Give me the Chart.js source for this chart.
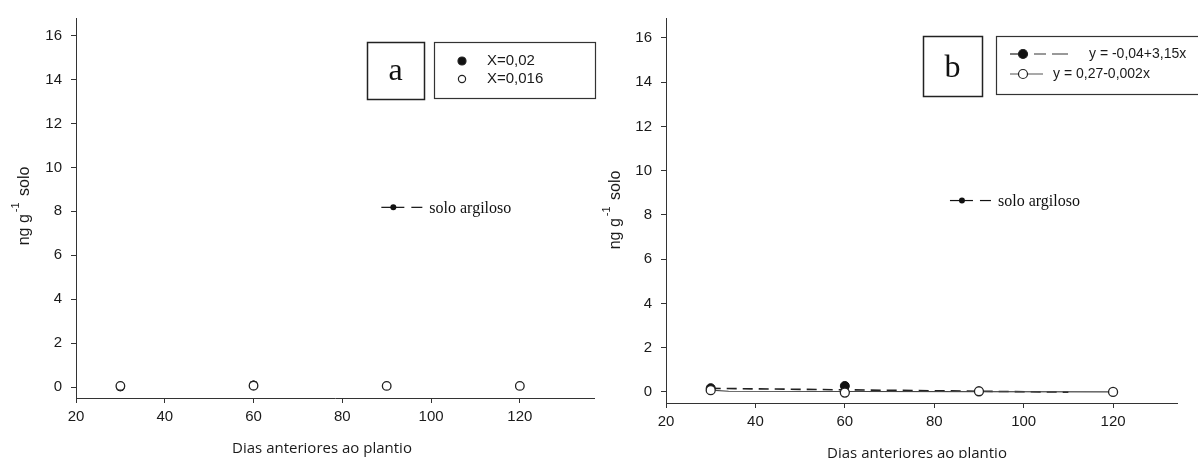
<!DOCTYPE html>
<html>
<head>
<meta charset="utf-8">
<script src="https://cdn.jsdelivr.net/npm/chart.js@4.4.1/dist/chart.umd.min.js"></script>
<style>
  html, body { margin: 0; padding: 0; background: #fff; }
  #wrap { position: relative; width: 1198px; height: 458px; overflow: hidden; }
  .panel { position: absolute; top: 0; height: 458px; }
</style>
</head>
<body>
<div id="wrap">
  <div class="panel" style="left:0;width:600px"><canvas id="chartA" width="600" height="458"></canvas></div>
  <div class="panel" style="left:600px;width:598px"><canvas id="chartB" width="598" height="458"></canvas></div>
</div>
<script>
// Days before planting (x) and residue in soil, ng g-1 (y)
const daysA_high = [30, 60];
const valsA_high = [0.0, 0.1];                 // X=0,02
const daysA_low  = [30, 60, 90, 120];
const valsA_low  = [0.05, 0.06, 0.05, 0.05];   // X=0,016

const daysB_high = [30, 60];
const valsB_high = [0.17, 0.27];
const fitB_highX = [30, 110];
const fitB_highY = [0.16, -0.01];
const daysB_low  = [30, 60, 90, 120];
const valsB_low  = [0.08, -0.03, 0.03, 0.0];
const fitB_lowX  = [30, 34, 120];
const fitB_lowY  = [0.08, 0.03, 0.0];

const xTicks = [20, 40, 60, 80, 100, 120];
const yTicks = [0, 2, 4, 6, 8, 10, 12, 14, 16];
const legendA = ['X=0,02', 'X=0,016'];
const legendB = ['y = -0,04+3,15x', 'y = 0,27-0,002x'];
const xTitle = 'Dias anteriores ao plantio';
const yTitleParts = ['ng g', '-1', ' solo'];
const noteText = 'solo argiloso';

const SANS = '"Liberation Sans", Arial, sans-serif';
const SERIF = '"Liberation Serif", "Times New Roman", serif';
const TITLE_FONT = '"Open Sans", "Noto Sans", sans-serif';
const AXIS = '#333';
const INK = '#1a1a1a';

const pts = (xs, ys) => xs.map((x, i) => ({ x: x, y: ys[i] }));

function dot(ctx, x, y, r, filled) {
  ctx.beginPath();
  ctx.arc(x, y, r, 0, Math.PI * 2);
  ctx.fillStyle = filled ? '#111' : '#fff';
  ctx.fill();
  ctx.lineWidth = 1.2;
  ctx.strokeStyle = '#222';
  ctx.stroke();
}

function seg(ctx, x1, y1, x2, y2, w, color) {
  ctx.beginPath();
  ctx.moveTo(x1, y1);
  ctx.lineTo(x2, y2);
  ctx.lineWidth = w;
  ctx.strokeStyle = color;
  ctx.stroke();
}

function drawYTitle(ctx, cx, cy) {
  ctx.save();
  ctx.translate(cx, cy);
  ctx.rotate(-Math.PI / 2);
  ctx.fillStyle = INK;
  ctx.textBaseline = 'middle';
  ctx.textAlign = 'left';
  const big = '16px ' + SANS, small = '11px ' + SANS;
  ctx.font = big;
  const w1 = ctx.measureText(yTitleParts[0]).width;
  const w3 = ctx.measureText(yTitleParts[2]).width;
  ctx.font = small;
  const w2 = ctx.measureText(yTitleParts[1]).width + 2;
  let x = -(w1 + w2 + w3) / 2;
  ctx.font = big;  ctx.fillText(yTitleParts[0], x, 0); x += w1 + 2;
  ctx.font = small; ctx.fillText(yTitleParts[1], x, -9); x += w2;
  ctx.font = big;  ctx.fillText(yTitleParts[2], x, 0);
  ctx.restore();
}

// Draws panel furniture: axis titles, panel letter, legend box and the soil-type note
function furniture(p) {
  return {
    id: 'furniture' + p.letter,
    afterDraw(chart) {
      const ctx = chart.ctx;
      ctx.save();
      drawYTitle(ctx, p.yTitle[0], p.yTitle[1]);

      ctx.font = '15px ' + TITLE_FONT;
      ctx.fillStyle = INK;
      ctx.textAlign = 'center';
      ctx.textBaseline = 'alphabetic';
      ctx.fillText(xTitle, p.xTitle[0], p.xTitle[1]);

      // panel letter box
      ctx.lineWidth = 1.5;
      ctx.strokeStyle = '#222';
      ctx.strokeRect(p.letterBox[0] + 0.5, p.letterBox[1] + 0.5, p.letterBox[2], p.letterBox[3]);
      ctx.font = '32px ' + SERIF;
      ctx.fillStyle = '#111';
      ctx.textAlign = 'center';
      ctx.fillText(p.letter, p.letterBox[0] + p.letterBox[2] / 2, p.letterBaseline);

      // legend box
      ctx.lineWidth = 1.2;
      ctx.strokeStyle = '#333';
      ctx.strokeRect(p.legendBox[0] + 0.5, p.legendBox[1] + 0.5, p.legendBox[2], p.legendBox[3]);
      ctx.font = p.legendFont + 'px ' + SANS;
      ctx.fillStyle = INK;
      ctx.textAlign = 'left';
      ctx.textBaseline = 'middle';
      p.drawLegend(ctx);

      // soil-type note, anchored in data coordinates
      const nx = chart.scales.x.getPixelForValue(p.note.x);
      const ny = chart.scales.y.getPixelForValue(p.note.y);
      seg(ctx, nx - 12, ny, nx + 11, ny, 1.2, '#111');
      seg(ctx, nx + 18, ny, nx + 29, ny, 1.2, '#111');
      ctx.beginPath();
      ctx.arc(nx, ny, 3, 0, Math.PI * 2);
      ctx.fillStyle = '#111';
      ctx.fill();
      ctx.font = '16px ' + SERIF;
      ctx.fillStyle = '#111';
      ctx.textBaseline = 'middle';
      ctx.fillText(noteText, nx + 36, ny + 1);
      ctx.restore();
    }
  };
}

function scaleOptions(p) {
  const tickFont = { family: SANS, size: 15 };
  return {
    x: {
      type: 'linear', min: 20, max: p.xMax,
      afterBuildTicks: s => { s.ticks = xTicks.map(v => ({ value: v })); },
      afterFit: s => { s.height = p.xAxisH; },
      grid: { display: true, drawOnChartArea: false, drawTicks: true, tickLength: 5, color: AXIS, lineWidth: 1 },
      border: { display: true, color: AXIS, width: 1 },
      ticks: { color: INK, font: tickFont, padding: 5, maxRotation: 0, autoSkip: false }
    },
    y: {
      type: 'linear', min: -0.5, max: p.yMax,
      afterBuildTicks: s => { s.ticks = yTicks.map(v => ({ value: v })); },
      afterFit: s => { s.width = p.yAxisW; },
      grid: { display: true, drawOnChartArea: false, drawTicks: true, tickLength: 5, color: AXIS, lineWidth: 1 },
      border: { display: true, color: AXIS, width: 1 },
      ticks: { color: INK, font: tickFont, padding: 9 }
    }
  };
}

function makeChart(id, p, datasets) {
  return new Chart(document.getElementById(id), {
    type: 'scatter',
    data: { datasets: datasets },
    options: {
      responsive: false,
      animation: false,
      layout: { padding: { left: 0, right: p.padRight, top: p.padTop, bottom: 0 } },
      plugins: { legend: { display: false }, tooltip: { enabled: false } },
      scales: scaleOptions(p)
    },
    plugins: [furniture(p)]
  });
}

// higher "order" is painted first, so open circles sit above the filled ones
const filledPoint = { order: 1, showLine: false, pointRadius: 4, pointBackgroundColor: '#111', pointBorderColor: '#111', pointBorderWidth: 1 };
const openPoint = { order: 0, showLine: false, pointRadius: 4.3, pointBackgroundColor: '#fff', pointBorderColor: '#222', pointBorderWidth: 1.3 };

// Panel a
makeChart('chartA', {
  letter: 'a', xMax: 136.8, yMax: 16.8, yAxisW: 76, xAxisH: 60, padRight: 3, padTop: 15,
  yTitle: [25, 207], xTitle: [322, 453],
  letterBox: [367, 42, 57, 57], letterBaseline: 80,
  legendBox: [434, 42, 161, 56], legendFont: 15,
  note: { x: 91.5, y: 8.18 },
  drawLegend(ctx) {
    dot(ctx, 462, 61, 4, true);
    ctx.fillStyle = INK; ctx.fillText(legendA[0], 487, 61);
    dot(ctx, 462, 79, 3.6, false);
    ctx.fillStyle = INK; ctx.fillText(legendA[1], 487, 79);
  }
}, [
  Object.assign({ label: legendA[0], data: pts(daysA_high, valsA_high) }, filledPoint),
  Object.assign({ label: legendA[1], data: pts(daysA_low, valsA_low) }, openPoint)
]);

// Panel b
makeChart('chartB', {
  letter: 'b', xMax: 134.3, yMax: 16.9, yAxisW: 66, xAxisH: 55, padRight: 21, padTop: 18,
  yTitle: [16, 211], xTitle: [317, 458],
  letterBox: [323, 36, 59, 60], letterBaseline: 77,
  legendBox: [396, 36, 210, 58], legendFont: 14,
  note: { x: 86.2, y: 8.65 },
  drawLegend(ctx) {
    seg(ctx, 410, 54, 428, 54, 1.2, '#222');
    seg(ctx, 434, 54, 446, 54, 1.2, '#555');
    seg(ctx, 452, 54, 468, 54, 1.2, '#555');
    dot(ctx, 423, 54, 4.5, true);
    ctx.fillStyle = INK; ctx.fillText(legendB[0], 489, 54);
    seg(ctx, 410, 74, 443, 74, 1.2, '#555');
    dot(ctx, 423, 74, 4.5, false);
    ctx.fillStyle = INK; ctx.fillText(legendB[1], 453, 74);
  }
}, [
  { label: legendB[0] + ' (ajuste)', order: 3, data: pts(fitB_highX, fitB_highY), showLine: true, borderDash: [10, 6],
    borderColor: '#222', borderWidth: 1.6, pointRadius: 0 },
  { label: legendB[1] + ' (ajuste)', order: 2, data: pts(fitB_lowX, fitB_lowY), showLine: true,
    borderColor: '#444', borderWidth: 1.2, pointRadius: 0 },
  Object.assign({ label: legendB[0], data: pts(daysB_high, valsB_high) }, filledPoint, { pointRadius: 4.5 }),
  Object.assign({ label: legendB[1], data: pts(daysB_low, valsB_low) }, openPoint, { pointRadius: 4.5 })
]);
</script>
</body>
</html>
